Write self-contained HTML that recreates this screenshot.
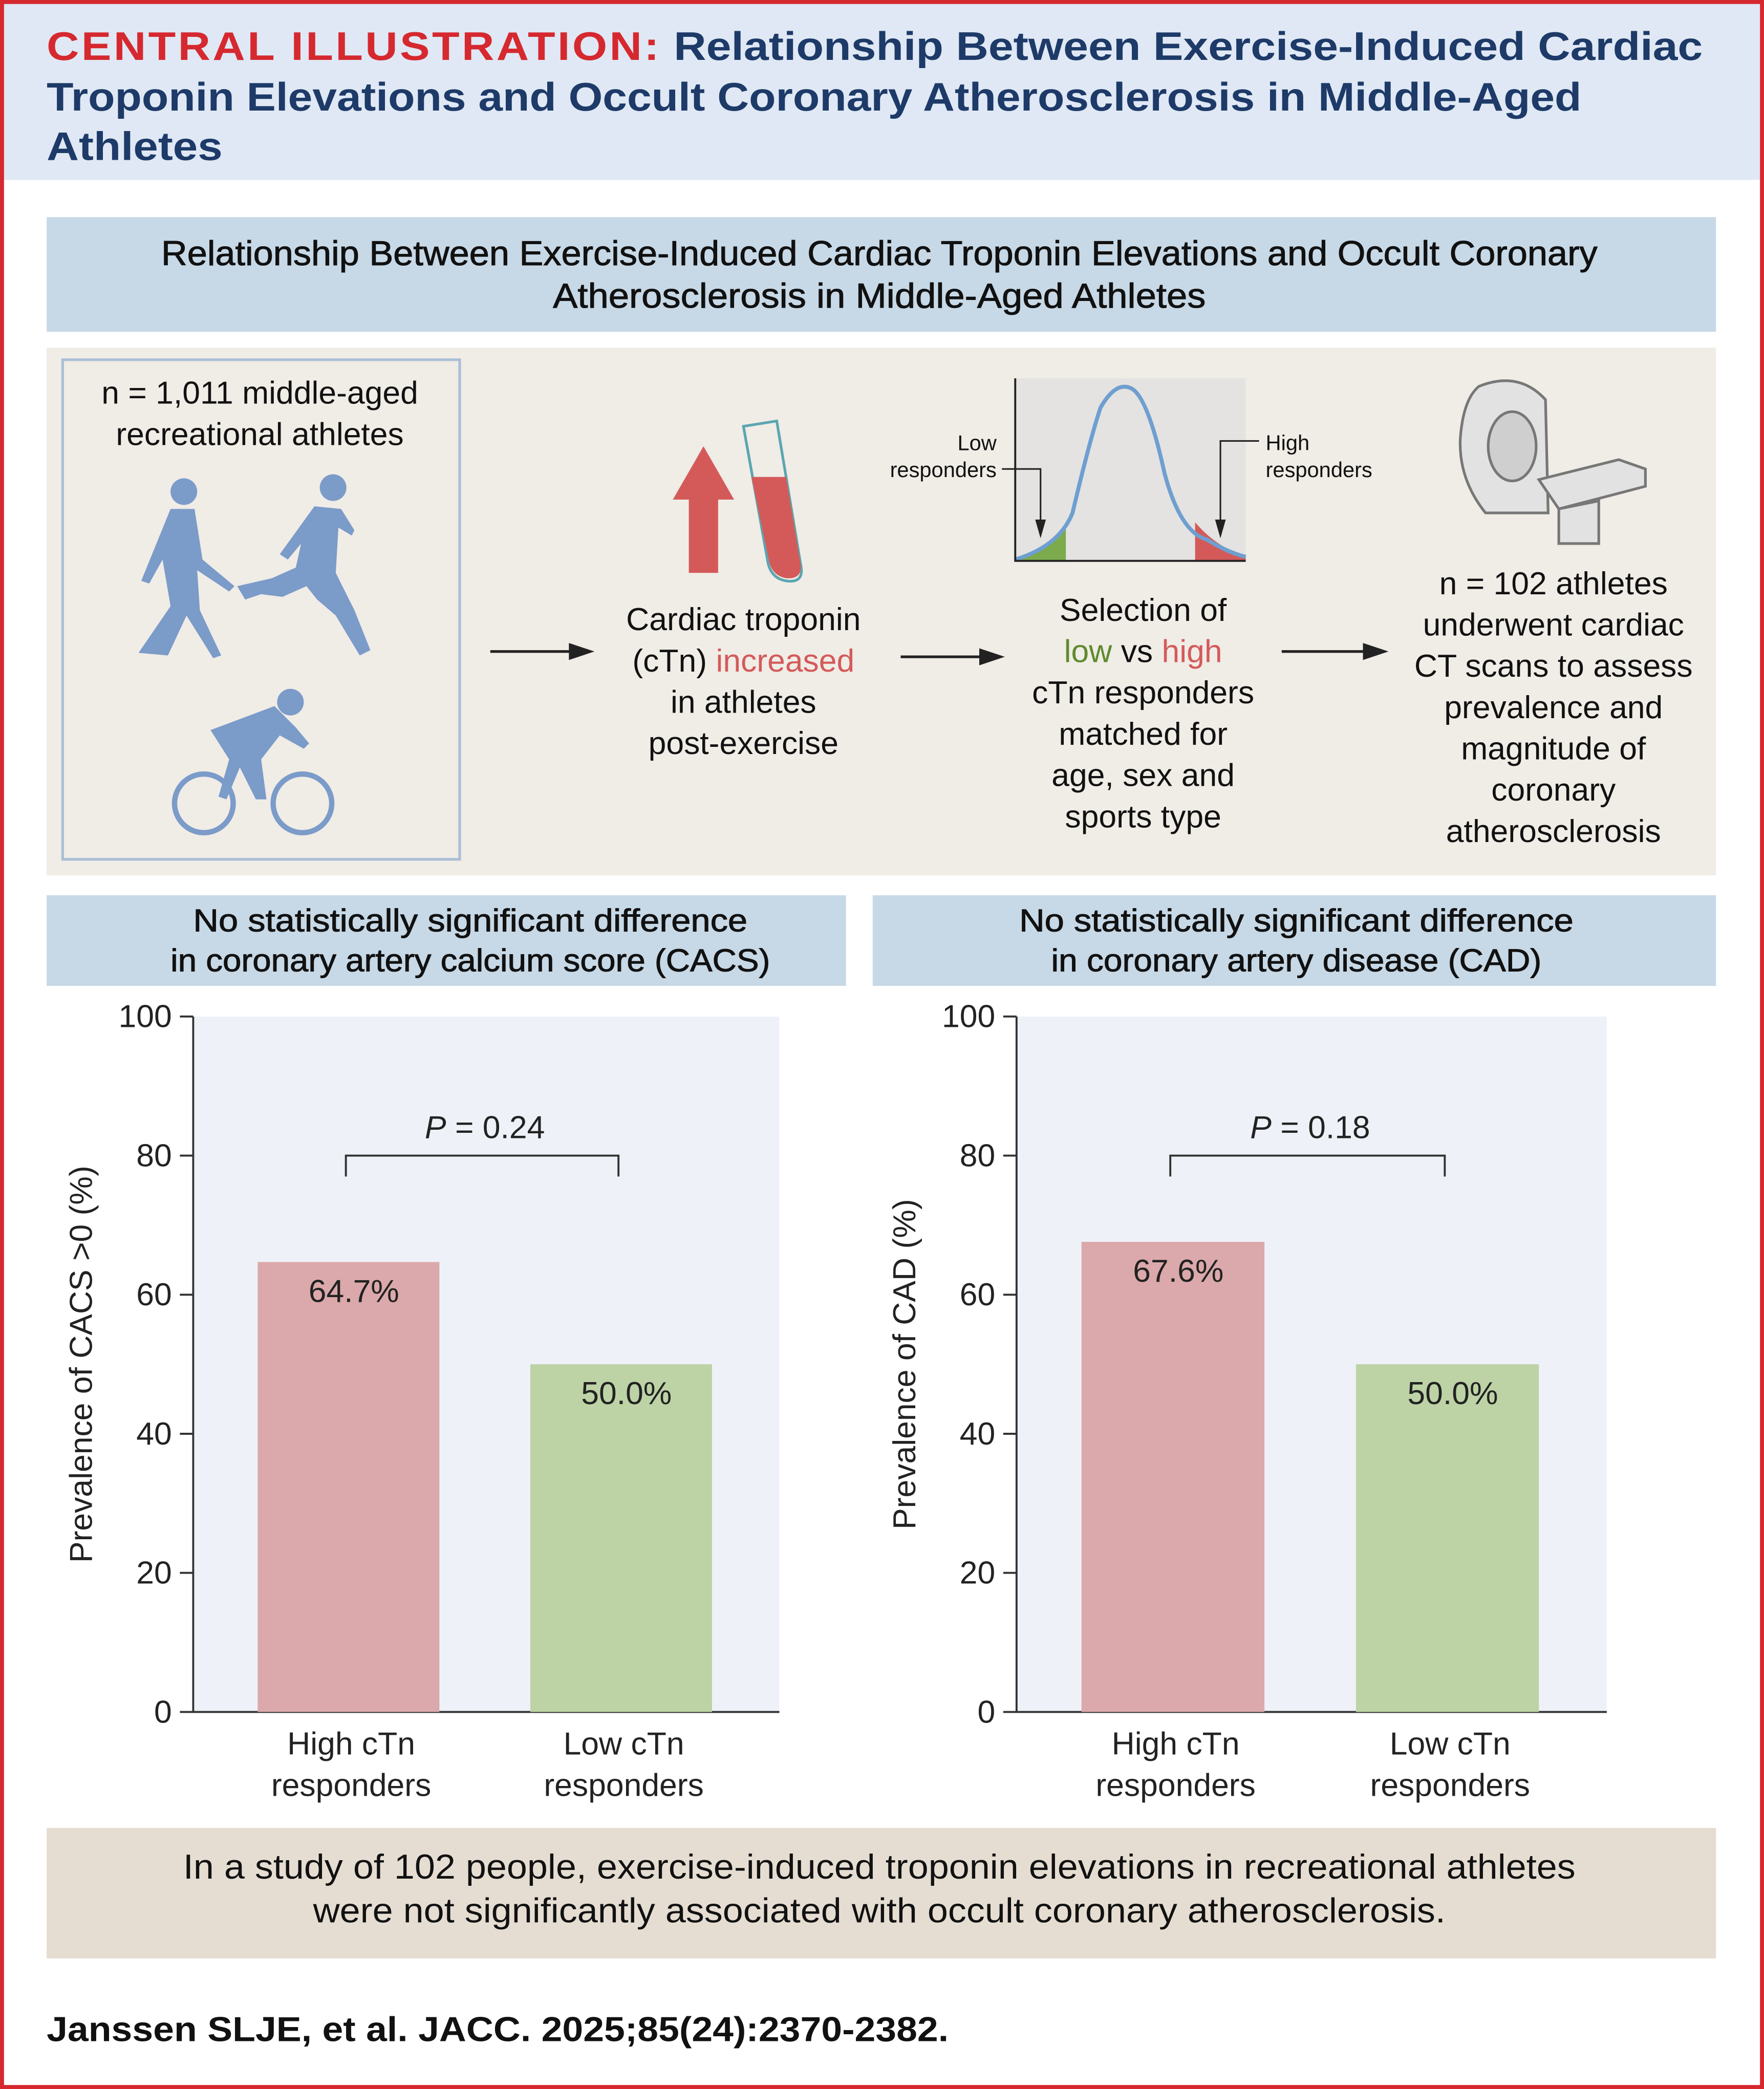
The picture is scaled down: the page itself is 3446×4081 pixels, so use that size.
<!DOCTYPE html>
<html><head><meta charset="utf-8"><style>
html,body{margin:0;padding:0;background:#fff}
svg{display:block}
text{font-family:"Liberation Sans",sans-serif}
</style></head><body>
<svg id="root" width="3446" height="4081" viewBox="0 0 1324 1568" xmlns="http://www.w3.org/2000/svg">
<rect x="0" y="0" width="1324" height="1568" fill="#fff"/>
<g>
<rect x="2" y="2" width="1320" height="133" fill="#dfe8f4"/>
<text x="35" y="45" font-size="30" font-weight="bold" fill="#1d3a68" textLength="1243" lengthAdjust="spacingAndGlyphs"><tspan fill="#d6282f" letter-spacing="1.5">CENTRAL ILLUSTRATION:</tspan> Relationship Between Exercise-Induced Cardiac</text>
<text x="35" y="83" font-size="30" font-weight="bold" fill="#1d3a68" textLength="1152" lengthAdjust="spacingAndGlyphs">Troponin Elevations and Occult Coronary Atherosclerosis in Middle-Aged</text>
<text x="35" y="120" font-size="30" font-weight="bold" fill="#1d3a68" textLength="132" lengthAdjust="spacingAndGlyphs">Athletes</text>
</g>
<rect x="1.5" y="1.5" width="1321" height="1565" fill="none" stroke="#d6282f" stroke-width="3"/>

<g>
<rect x="35" y="163" width="1253" height="86" fill="#c7d8e6"/>
<text x="660" y="199" font-size="26" text-anchor="middle" fill="#111" textLength="1078" lengthAdjust="spacingAndGlyphs" stroke="#111" stroke-width="0.4">Relationship Between Exercise-Induced Cardiac Troponin Elevations and Occult Coronary</text>
<text x="660" y="231" font-size="26" text-anchor="middle" fill="#111" textLength="490" lengthAdjust="spacingAndGlyphs" stroke="#111" stroke-width="0.4">Atherosclerosis in Middle-Aged Athletes</text>
</g>

<g>
<rect x="35" y="261" width="1253" height="396" fill="#f0ece6"/>
<rect x="47" y="270" width="298" height="375" fill="none" stroke="#a9bfd6" stroke-width="2"/>
<text x="195" y="303" font-size="24" text-anchor="middle" fill="#111">n = 1,011 middle-aged</text>
<text x="195" y="334" font-size="24" text-anchor="middle" fill="#111">recreational athletes</text>
<g fill="#7b9bc9">
<circle cx="138" cy="369" r="10"/>
<path d="M128 382 L146 382 L152 420 L176 440 L172 444 L148 428 L150 458 L166 492 L160 494 L140 462 L126 492 L104 490 L128 455 L122 420 L112 438 L106 436 Z"/>
<circle cx="250" cy="366" r="10"/>
<path d="M236 380 L256 382 L266 398 L264 402 L254 396 L252 430 L266 458 L278 488 L270 492 L252 462 L238 450 L230 440 L212 448 L196 446 L184 450 L178 440 L204 434 L222 426 L226 408 L216 420 L210 416 Z"/>
<circle cx="218" cy="527" r="10"/>
<circle cx="153" cy="603" r="22" fill="none" stroke="#7b9bc9" stroke-width="4"/>
<circle cx="227" cy="603" r="22" fill="none" stroke="#7b9bc9" stroke-width="4"/>
<path d="M158 548 L206 530 L222 546 L232 558 L228 562 L210 552 L196 570 L200 600 L192 600 L180 576 L170 600 L164 598 L172 570 Z"/>
</g>
<g stroke="#222" stroke-width="2" fill="#222">
<line x1="368" y1="489" x2="428" y2="489"/><path d="M443 489 L428 484 L428 494 Z"/>
<line x1="676" y1="493" x2="736" y2="493"/><path d="M751 493 L736 488 L736 498 Z"/>
<line x1="962" y1="489" x2="1024" y2="489"/><path d="M1039 489 L1024 484 L1024 494 Z"/>
</g>
<g>
<path d="M505 375 L528 335 L551 375 L539 375 L539 430 L517 430 L517 375 Z" fill="#d45a5a"/>
<path d="M558 320 L583 316 L601 424 Q604 438 590 436 Q578 434 576 420 Z" fill="none" stroke="#5aa6b0" stroke-width="2"/>
<path d="M564 358 L590 358 L601 424 Q602 435 590 434 Q579 432 577 420 Z" fill="#d45a5a"/>
</g>
<text x="558" y="473" font-size="24" text-anchor="middle" fill="#111">Cardiac troponin</text>
<text x="558" y="504" font-size="24" text-anchor="middle" fill="#111">(cTn) <tspan fill="#d45a5a">increased</tspan></text>
<text x="558" y="535" font-size="24" text-anchor="middle" fill="#111">in athletes</text>
<text x="558" y="566" font-size="24" text-anchor="middle" fill="#111">post-exercise</text>
<g>
<rect x="762" y="284" width="173" height="137" fill="#e4e3e1"/>
<path d="M762 420 Q790 410 800 395 L800 421 L762 421 Z" fill="#7bab4c"/>
<path d="M897 392 Q912 410 935 418 L935 421 L897 421 Z" fill="#d45a5a"/>
<path d="M762 420 Q795 410 805 385 Q818 330 826 306 Q838 285 850 292 Q862 300 874 355 Q886 400 906 405 Q920 414 935 418" fill="none" stroke="#6f9fd0" stroke-width="3"/>
<path d="M762 284 L762 421 L935 421" fill="none" stroke="#222" stroke-width="1.5"/>
<path d="M752 352 L781 352 L781 395" fill="none" stroke="#222" stroke-width="1.2"/><path d="M781 404 L777 390 L785 390 Z" fill="#222"/>
<path d="M945 331 L916 331 L916 395" fill="none" stroke="#222" stroke-width="1.2"/><path d="M916 404 L912 390 L920 390 Z" fill="#222"/>
<text x="748" y="338" font-size="16" text-anchor="end" fill="#111">Low</text>
<text x="748" y="358" font-size="16" text-anchor="end" fill="#111">responders</text>
<text x="950" y="338" font-size="16" fill="#111">High</text>
<text x="950" y="358" font-size="16" fill="#111">responders</text>
</g>
<text x="858" y="466" font-size="24" text-anchor="middle" fill="#111">Selection of</text>
<text x="858" y="497" font-size="24" text-anchor="middle" fill="#111"><tspan fill="#5e8a2c">low</tspan> vs <tspan fill="#d45a5a">high</tspan></text>
<text x="858" y="528" font-size="24" text-anchor="middle" fill="#111">cTn responders</text>
<text x="858" y="559" font-size="24" text-anchor="middle" fill="#111">matched for</text>
<text x="858" y="590" font-size="24" text-anchor="middle" fill="#111">age, sex and</text>
<text x="858" y="621" font-size="24" text-anchor="middle" fill="#111">sports type</text>
<g fill="#e2e2e2" stroke="#777" stroke-width="2">
<path d="M1110 290 Q1140 278 1160 300 L1162 385 L1115 385 Q1095 360 1096 330 Q1098 300 1110 290 Z"/>
<ellipse cx="1135" cy="335" rx="18" ry="26" fill="#cfcfcf"/>
<path d="M1155 360 L1215 345 L1235 352 L1235 365 L1170 382 Z"/>
<path d="M1170 382 L1200 376 L1200 408 L1170 408 Z"/>
</g>
<text x="1166" y="446" font-size="24" text-anchor="middle" fill="#111">n = 102 athletes</text>
<text x="1166" y="477" font-size="24" text-anchor="middle" fill="#111">underwent cardiac</text>
<text x="1166" y="508" font-size="24" text-anchor="middle" fill="#111">CT scans to assess</text>
<text x="1166" y="539" font-size="24" text-anchor="middle" fill="#111">prevalence and</text>
<text x="1166" y="570" font-size="24" text-anchor="middle" fill="#111">magnitude of</text>
<text x="1166" y="601" font-size="24" text-anchor="middle" fill="#111">coronary</text>
<text x="1166" y="632" font-size="24" text-anchor="middle" fill="#111">atherosclerosis</text>
</g>

<g>
<rect x="35" y="672" width="600" height="68" fill="#c7d8e6"/>
<text x="353" y="699" font-size="24" text-anchor="middle" fill="#111" textLength="416" lengthAdjust="spacingAndGlyphs" stroke="#111" stroke-width="0.4">No statistically significant difference</text>
<text x="353" y="729" font-size="24" text-anchor="middle" fill="#111" textLength="450" lengthAdjust="spacingAndGlyphs" stroke="#111" stroke-width="0.4">in coronary artery calcium score (CACS)</text>
</g>
<g>
<rect x="655" y="672" width="633" height="68" fill="#c7d8e6"/>
<text x="973" y="699" font-size="24" text-anchor="middle" fill="#111" textLength="416" lengthAdjust="spacingAndGlyphs" stroke="#111" stroke-width="0.4">No statistically significant difference</text>
<text x="973" y="729" font-size="24" text-anchor="middle" fill="#111" textLength="368" lengthAdjust="spacingAndGlyphs" stroke="#111" stroke-width="0.4">in coronary artery disease (CAD)</text>
</g>
<g id="chart1"></g>
<g id="chart2"></g>

<g>
<rect x="35" y="1372" width="1253" height="98" fill="#e6ddd2"/>
<text x="660" y="1410" font-size="26" text-anchor="middle" fill="#111" textLength="1045" lengthAdjust="spacingAndGlyphs">In a study of 102 people, exercise-induced troponin elevations in recreational athletes</text>
<text x="660" y="1443" font-size="26" text-anchor="middle" fill="#111" textLength="850" lengthAdjust="spacingAndGlyphs">were not significantly associated with occult coronary atherosclerosis.</text>
</g>
<text x="35" y="1532" font-size="26" font-weight="bold" fill="#111" textLength="677" lengthAdjust="spacingAndGlyphs">Janssen SLJE, et al. JACC. 2025;85(24):2370-2382.</text>
</svg>
<script>
const categories = ["High cTn|responders", "Low cTn|responders"];
const cacsValues = [64.7, 50.0];
const cadValues = [67.6, 50.0];
const cacsLabels = ["64.7%", "50.0%"];
const cadLabels = ["67.6%", "50.0%"];
const yTicks = [0, 20, 40, 60, 80, 100];
const barColors = ["#dba9ab", "#bdd3a6"];
const pValues = ["0.24", "0.18"];

const NS = "http://www.w3.org/2000/svg";
function mk(parent, tag, attrs, txt) {
  const e = document.createElementNS(NS, tag);
  for (const k in attrs) e.setAttribute(k, attrs[k]);
  if (txt !== undefined) e.textContent = txt;
  parent.appendChild(e);
  return e;
}
function drawChart(g, x0, x1, values, labels, pval, ytitle) {
  const yTop = 763, yBot = 1285;
  const y = v => yBot - (v / 100) * (yBot - yTop);
  const w = x1 - x0;
  const xc = i => x0 + w * (0.265 + 0.465 * i);
  const bw = w * 0.31;
  const bg = mk(g, "rect", {x: x0, y: yTop, width: w, height: yBot - yTop, fill: "#eef2f8"});
  
  
  yTicks.forEach(t => {
    const tk = mk(g, "line", {x1: x0 - 10, x2: x0, y1: y(t), y2: y(t), stroke: "#333", "stroke-width": 1.5});
    
    
    const tl = mk(g, "text", {x: x0 - 16, y: y(t) + 8, "font-size": 24, "text-anchor": "end", fill: "#222"}, String(t));
    
    
  });
  const ax = mk(g, "path", {d: `M${x0} ${yTop} L${x0} ${yBot} L${x1} ${yBot}`, fill: "none", stroke: "#333", "stroke-width": 1.5});
  
  
  const yt = mk(g, "text", {x: 0, y: 0, "font-size": 24, "text-anchor": "middle", fill: "#222", transform: `translate(${x0 - 76},${(yTop + yBot) / 2}) rotate(-90)`}, ytitle);
  
  
  values.forEach((v, i) => {
    const b = mk(g, "rect", {x: xc(i) - bw / 2, y: y(v), width: bw, height: yBot - y(v), fill: barColors[i]});
    
    
    const vl = mk(g, "text", {x: xc(i) + 4, y: y(v) + 30, "font-size": 24, "text-anchor": "middle", fill: "#222"}, labels[i]);
    
    
    const parts = categories[i].split("|");
    parts.forEach((p, j) => {
      const cl = mk(g, "text", {x: xc(i) + 2, y: 1317 + j * 31, "font-size": 24, "text-anchor": "middle", fill: "#222"}, p);
      
      
    });
  });
  const br = mk(g, "path", {d: `M${xc(0) - 2} ${y(77)} L${xc(0) - 2} ${y(80)} L${xc(1) - 2} ${y(80)} L${xc(1) - 2} ${y(77)}`, fill: "none", stroke: "#333", "stroke-width": 1.5});
  
  
  const pt = mk(g, "text", {x: (xc(0) + xc(1)) / 2, y: y(80) - 13, "font-size": 24, "text-anchor": "middle", fill: "#222"});
  
  
  mk(pt, "tspan", {"font-style": "italic"}, "P");
  mk(pt, "tspan", {}, " = " + pval);
}
drawChart(document.getElementById("chart1"), 145, 585, cacsValues, cacsLabels, pValues[0], "Prevalence of CACS >0 (%)");
drawChart(document.getElementById("chart2"), 763, 1206, cadValues, cadLabels, pValues[1], "Prevalence of CAD (%)");
</script>
</body></html>
